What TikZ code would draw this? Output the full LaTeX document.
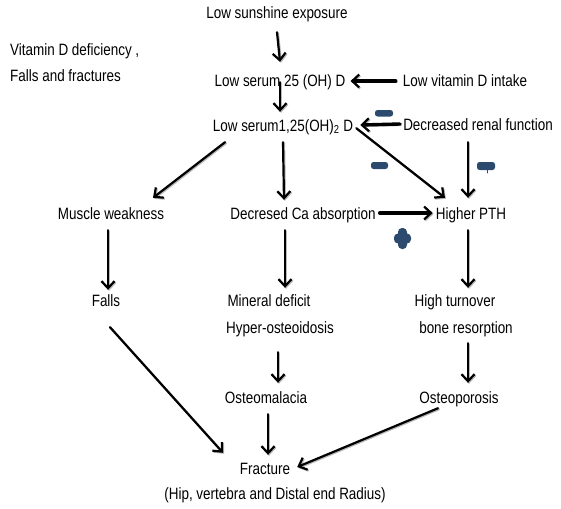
\documentclass[tikz,border=0pt]{standalone}
\usepackage{fontspec}
\setmainfont[FakeStretch=0.82]{Liberation Sans}
\usetikzlibrary{arrows.meta}
\definecolor{badgeblue}{RGB}{44,74,110}

\begin{document}
\begin{tikzpicture}[line cap=round,line join=round,x=1pt,y=-1pt,
  txt/.style={inner sep=0pt,anchor=base,text height=12pt,text depth=4pt,
    font=\fontsize{16.4}{19}\selectfont},
  arr/.style={line width=2.2pt,-{Straight Barb[length=7pt,width=13pt,line width=2.2pt]},
    preaction={draw=gray!55,line width=2.2pt,transform canvas={shift={(1pt,-1pt)}}}},
  fatarr/.style={arr,line width=3.4pt},
  badge/.style={fill=badgeblue,draw=none,rounded corners=2.5pt}]
\useasboundingbox (0,0) rectangle (561,508);

% text
\node[txt] (sun) at (277,19) {Low sunshine exposure};
\node[txt,anchor=base west] (title) at (10,56) {Vitamin D deficiency ,};
\node[txt,anchor=base west] (title2) at (10,82) {Falls and fractures};
\node[txt] (ser25) at (280,87) {Low serum 25 (OH) D};
\node[txt] (intake) at (465,87) {Low vitamin D intake};
\node[txt] (ser125) at (283,131) {Low serum1,25(OH)\textsubscript{2} D};
\node[txt] (renal) at (478,130) {Decreased renal function};
\node[txt] (muscle) at (111,219) {Muscle weakness};
\node[txt] (caabs) at (303,219) {Decresed Ca absorption};
\node[txt] (pth) at (471,219) {Higher PTH};
\node[txt] (falls) at (106,306) {Falls};
\node[txt] (mineral) at (269,306) {Mineral deficit};
\node[txt] (hyper) at (280,333) {Hyper-osteoidosis};
\node[txt] (turnover) at (455,306) {High turnover};
\node[txt] (resorp) at (466,333) {bone resorption};
\node[txt] (malacia) at (266,403) {Osteomalacia};
\node[txt] (porosis) at (459,403) {Osteoporosis};
\node[txt] (fracture) at (265,474) {Fracture};
\node[txt] (sites) at (275,499) {(Hip, vertebra and Distal end Radius)};

% arrows
\draw[arr] ([yshift=-9pt]sun.south) -- ([yshift=13pt]ser25.north);
\draw[fatarr] ([xshift=-7pt,yshift=2pt]intake.west) -- ([xshift=5pt,yshift=2pt]ser25.east);
\draw[arr] ([yshift=9pt]ser25.south) -- ([xshift=-3pt,yshift=7pt]ser125.north);
\draw[fatarr] ([xshift=-3pt,yshift=2pt]renal.west) -- ([xshift=7pt,yshift=2pt]ser125.east);
\draw[arr] ([xshift=-58pt,yshift=-7pt]ser125.south) -- ([xshift=42pt,yshift=9pt]muscle.north);
\draw[arr] ([yshift=-7pt]ser125.south) -- ([xshift=-19pt,yshift=7pt]caabs.north);
\draw[arr] ([xshift=3pt,yshift=7pt]ser125.south east) -- ([xshift=-26pt,yshift=9pt]pth.north);
\draw[arr] ([xshift=-10pt,yshift=-8pt]renal.south) -- ([xshift=-3pt,yshift=9pt]pth.north);
\draw[fatarr] ([xshift=4pt,yshift=2pt]caabs.east) -- ([xshift=-3pt,yshift=2pt]pth.west);
\draw[arr] ([xshift=-3pt,yshift=-7pt]muscle.south) -- ([xshift=2pt,yshift=4pt]falls.north);
\draw[arr] ([xshift=-18pt,yshift=-7pt]caabs.south) -- ([xshift=16pt,yshift=6pt]mineral.north);
\draw[arr] ([xshift=-3pt,yshift=-7pt]pth.south) -- ([xshift=13pt,yshift=6pt]turnover.north);
\draw[arr] ([xshift=-2pt,yshift=-15pt]hyper.south) -- ([xshift=12pt,yshift=8pt]malacia.north);
\draw[arr] ([xshift=2pt,yshift=-6pt]resorp.south) -- ([xshift=9pt,yshift=8pt]porosis.north);
\draw[arr] ([xshift=4pt,yshift=-17pt]falls.south) -- ([xshift=-42pt,yshift=9pt]fracture.north);
\draw[arr] ([xshift=2pt,yshift=-7pt]malacia.south) -- ([xshift=3pt,yshift=7pt]fracture.north);
\draw[arr] ([xshift=-21pt,yshift=-1pt]porosis.south) -- ([xshift=7pt,yshift=3pt]fracture.east);

% signs
\fill[badge] (375,110) rectangle (393,116.5);
\fill[badge] (371,162) rectangle (388,169);
\fill[badge] (477,162) rectangle (495,170);
\draw[badgeblue,line width=0.8pt] (487.5,170) -- (487.5,173);
\fill[badge,rounded corners=4pt] (398,228) rectangle (407,249);
\fill[badge,rounded corners=4pt] (394,233.5) rectangle (411,243.5);
\end{tikzpicture}
\end{document}
